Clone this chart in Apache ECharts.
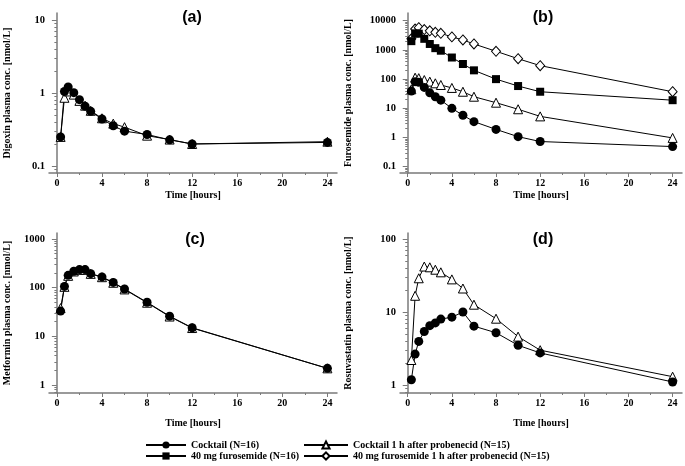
<!DOCTYPE html>
<html>
<head>
<meta charset="utf-8">
<script src="https://cdn.jsdelivr.net/npm/echarts@6/dist/echarts.min.js"></script>
<style>html,body{margin:0;padding:0;background:#fff}#c{width:685px;height:466px}</style>
</head>
<body>
<div id="c"></div>
<script>
// ---- data ----
const time = [0.33, 0.67, 1, 1.5, 2, 2.5, 3, 4, 5, 6, 8, 10, 12, 24];

const digoxinCocktail = [0.25, 1.05, 1.21, 1.01, 0.81, 0.66, 0.56, 0.44, 0.355, 0.30, 0.27, 0.228, 0.20, 0.21];
const digoxinProbenecid = [0.25, 0.86, 1.05, 0.95, 0.78, 0.67, 0.57, 0.45, 0.38, 0.34, 0.26, 0.23, 0.20, 0.215];

const furoCocktail = [39, 82, 78, 52, 34, 25, 19, 10, 5.8, 3.5, 1.9, 1.07, 0.73, 0.49];
const furoCocktailProbenecid = [45, 112, 108, 93, 82, 72, 63, 50, 37, 25, 15.6, 9.3, 5.3, 0.97];
const furo40 = [2000, 3700, 3600, 2400, 1600, 1150, 940, 550, 330, 200, 100, 58, 37, 19];
const furo40Probenecid = [2400, 5200, 5800, 5000, 4500, 4000, 3700, 2800, 2200, 1600, 900, 500, 290, 37];

const metCocktail = [33, 106, 179, 217, 235, 235, 194, 166, 128, 94, 50, 26, 15, 2.2];
const metProbenecid = [38, 104, 175, 215, 232, 232, 192, 164, 126, 92, 49, 25.5, 14.8, 2.2];

const rosCocktail = [1.18, 2.65, 3.96, 5.4, 6.5, 7.1, 8.0, 8.5, 10, 6.4, 5.2, 3.5, 2.75, 1.1];
const rosProbenecid = [2.2, 16.7, 29, 42, 41, 38, 35, 28, 21, 12.6, 8.1, 4.6, 3.0, 1.3];

const xTicks = [0, 4, 8, 12, 16, 20, 24];
const xMinorTicks = [2, 6, 10, 14, 18, 22];
const yTicksA = [0.1, 1, 10];
const yTicksB = [0.1, 1, 10, 100, 1000, 10000];
const yTicksC = [1, 10, 100, 1000];
const yTicksD = [1, 10, 100];

const nameCocktail = 'Cocktail (N=16)';
const nameCocktailProb = 'Cocktail 1 h after probenecid (N=15)';
const nameFuro = '40 mg furosemide (N=16)';
const nameFuroProb = '40 mg furosemide 1 h after probenecid (N=15)';

// ---- chart ----
const serif = 'Liberation Serif';
const axisColor = '#7a7a7a';

const panels = [
  {title: '(a)', left: 49, top: 13, width: 288, height: 160, yMin: 0.08, yMax: 12.5, yTicks: yTicksA,
   yName: 'Digoxin plasma conc. [nmol/L]', yGap: 37, xGap: 17, titleX: 187, titleY: 5},
  {title: '(b)', left: 400, top: 13, width: 282, height: 160, yMin: 0.061, yMax: 18400, yTicks: yTicksB,
   yName: 'Furosemide plasma conc. [nmol/L]', yGap: 47, xGap: 17, titleX: 538, titleY: 5},
  {title: '(c)', left: 49, top: 233, width: 288, height: 160, yMin: 0.685, yMax: 1327, yTicks: yTicksC,
   yName: 'Metformin plasma conc. [nmol/L]', yGap: 37, xGap: 25, titleX: 190, titleY: 227},
  {title: '(d)', left: 400, top: 233, width: 282, height: 160, yMin: 0.777, yMax: 121, yTicks: yTicksD,
   yName: 'Rosuvastatin plasma conc. [nmol/L]', yGap: 47, xGap: 25, titleX: 538, titleY: 227}
];

function minorLog(ticks, lo, hi) {
  const out = [];
  ticks.concat([ticks[0] / 10]).forEach(d => {
    for (let k = 2; k <= 9; k++) {
      const v = +(d * k).toPrecision(6);
      if (v > lo && v < hi) out.push(v);
    }
  });
  return out;
}

const grid = [], xAxis = [], yAxis = [], title = [];
panels.forEach((p, i) => {
  grid.push({left: p.left, top: p.top, width: p.width, height: p.height, show: false});
  title.push({text: p.title, left: p.titleX, top: p.titleY, textAlign: 'center',
    textStyle: {fontFamily: 'Liberation Sans', fontWeight: 'bold', fontSize: 16, color: '#000'}});
  xAxis.push({type: 'value', gridIndex: i, min: -0.7, max: 24.85, position: 'bottom',
    name: 'Time [hours]', nameLocation: 'middle', nameGap: p.xGap,
    nameTextStyle: {fontFamily: serif, fontWeight: 'bold', fontSize: 10, color: '#000'},
    axisLine: {lineStyle: {color: axisColor, width: 1.5}},
    axisTick: {customValues: xTicks, length: 4, lineStyle: {color: axisColor}},
    axisLabel: {customValues: xTicks, margin: 5, fontFamily: serif, fontWeight: 'bold', fontSize: 10, color: '#000'},
    splitLine: {show: false}});
  xAxis.push({type: 'value', gridIndex: i, min: -0.7, max: 24.85, position: 'bottom',
    axisLine: {show: false},
    axisTick: {customValues: xMinorTicks, length: 2, lineStyle: {color: axisColor}},
    axisLabel: {show: false}, splitLine: {show: false}});
  yAxis.push({type: 'log', logBase: 10, gridIndex: i, min: p.yMin, max: p.yMax, position: 'left',
    name: p.yName, nameLocation: 'middle', nameGap: p.yGap,
    nameTextStyle: {fontFamily: serif, fontWeight: 'bold', fontSize: 10, color: '#000'},
    axisLine: {show: true, lineStyle: {color: axisColor, width: 1.5}},
    axisTick: {customValues: p.yTicks, length: 5, lineStyle: {color: axisColor}},
    axisLabel: {customValues: p.yTicks, margin: 4, fontFamily: serif, fontWeight: 'bold', fontSize: 10.5, color: '#000',
      formatter: v => String(+(+v).toPrecision(6))},
    splitLine: {show: false}});
  yAxis.push({type: 'log', logBase: 10, gridIndex: i, min: p.yMin, max: p.yMax, position: 'left',
    axisLine: {show: false},
    axisTick: {customValues: minorLog(p.yTicks, p.yMin, p.yMax), length: 2.5, lineStyle: {color: axisColor}},
    axisLabel: {show: false}, splitLine: {show: false}});
});

function pts(vals) { return time.map((t, k) => [t, vals[k]]); }

const styles = {};
styles[nameCocktail] = {symbol: 'circle', symbolSize: 9, itemStyle: {color: '#000'}};
styles[nameFuro] = {symbol: 'rect', symbolSize: 8, itemStyle: {color: '#000'}};
styles[nameCocktailProb] = {symbol: 'triangle', symbolSize: 9, itemStyle: {color: '#fff', borderColor: '#000', borderWidth: 1}};
styles[nameFuroProb] = {symbol: 'diamond', symbolSize: [9, 10], itemStyle: {color: '#fff', borderColor: '#000', borderWidth: 1}};

function mk(name, panel, vals) {
  return Object.assign({
    type: 'line', name: name, xAxisIndex: panel * 2, yAxisIndex: panel * 2,
    data: pts(vals), showAllSymbol: true, animation: false,
    lineStyle: {color: '#000', width: 1}, emphasis: {disabled: true}
  }, styles[name]);
}

const series = [
  mk(nameCocktailProb, 0, digoxinProbenecid),
  mk(nameCocktail, 0, digoxinCocktail),
  mk(nameFuroProb, 1, furo40Probenecid),
  mk(nameFuro, 1, furo40),
  mk(nameCocktailProb, 1, furoCocktailProbenecid),
  mk(nameCocktail, 1, furoCocktail),
  mk(nameCocktailProb, 2, metProbenecid),
  mk(nameCocktail, 2, metCocktail),
  mk(nameCocktailProb, 3, rosProbenecid),
  mk(nameCocktail, 3, rosCocktail)
];

const legendText = {fontFamily: serif, fontWeight: 'bold', fontSize: 10, color: '#000'};
function lg(name, left, top, w) {
  return {orient: 'horizontal', left: left, top: top, itemWidth: w, itemHeight: 9, padding: 0,
    data: [name], textStyle: legendText, selectedMode: false};
}

const option = {
  backgroundColor: '#fff',
  animation: false,
  title: title,
  grid: grid, xAxis: xAxis, yAxis: yAxis,
  legend: [
    lg(nameCocktail, 145, 440, 40),
    lg(nameFuro, 145, 451, 40),
    lg(nameCocktailProb, 303, 440, 44),
    lg(nameFuroProb, 303, 451, 44)
  ],
  series: series
};

const chart = echarts.init(document.getElementById('c'), null, {renderer: 'canvas'});
chart.setOption(option);
</script>
</body>
</html>
